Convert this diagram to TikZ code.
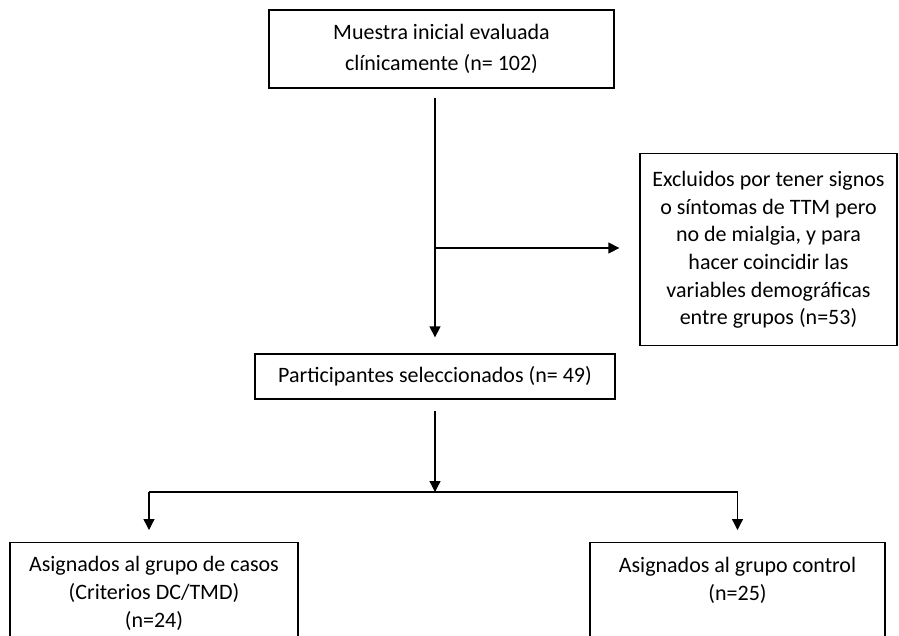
\documentclass[tikz,border=0pt]{standalone}
\usepackage{fontspec}
\setmainfont{Carlito}
\usetikzlibrary{arrows.meta,positioning,calc}

\begin{document}
\begin{tikzpicture}[x=1pt,y=1pt,
  font=\fontsize{22}{26}\selectfont,
  box/.style={draw,line width=1.3pt,align=center,inner sep=4pt},
  a/.style={line width=1.3pt,-{Triangle[length=11pt,width=11pt]}}]
\useasboundingbox (0,0) rectangle (899,-635);
\clip (0,0) rectangle (899,-635);
\node[box,minimum width=345,minimum height=78,font=\fontsize{22}{31}\selectfont]
  (muestra) at (441.5,-49) {Muestra inicial evaluada\\clínicamente (n= 102)};
\node[box,anchor=north,minimum width=257,text height=167,text depth=17,
  font=\fontsize{22}{27.6}\selectfont] (excl) at (768.5,-153)
  {Excluidos por tener signos\\o síntomas de TTM pero\\no de mialgia, y para\\hacer coincidir las\\variables demográficas\\entre grupos (n=53)};
\node[box,minimum width=360,minimum height=45] (selec) at (435,-376.5)
  {Participantes seleccionados (n= 49)};
\node[box,anchor=north,minimum width=288,text height=81,text depth=40,
  font=\fontsize{22}{28}\selectfont] (casos) at (154,-542)
  {Asignados al grupo de casos\\(Criterios DC/TMD)\\(n=24)};
\node[box,anchor=north,minimum width=295,text height=54,text depth=60,
  font=\fontsize{22}{28}\selectfont] (control) at (737.5,-542)
  {Asignados al grupo control\\(n=25)};
\coordinate (split) at (435,-248);
\coordinate (fork) at (435,-492);
\draw[a,shorten <=9pt,shorten >=16pt] (muestra.south -| selec.north) -- (selec.north);
\draw[a,shorten >=20pt] (split) -- (split -| excl.west);
\draw[a,shorten <=11pt] (selec.south) -- (fork);
\draw[line width=1.3pt] ([xshift=-5pt]casos.north |- fork) -- (control.north |- fork);
\draw[a,shorten >=12pt] ([xshift=-5pt]casos.north |- fork) -- ([xshift=-5pt]casos.north);
\draw[a,shorten >=12pt] (control.north |- fork) -- (control.north);
\end{tikzpicture}
\end{document}
